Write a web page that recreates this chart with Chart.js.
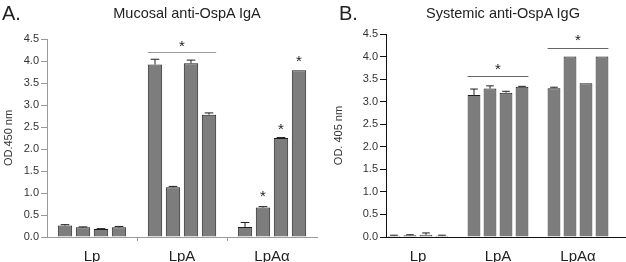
<!DOCTYPE html>
<html>
<head>
<meta charset="utf-8">
<script src="https://cdn.jsdelivr.net/npm/chart.js@4.4.0/dist/chart.umd.min.js"></script>
<style>
  body { margin: 0; background: #fff; }
  #wrap { position: relative; width: 626px; height: 262px; font-family: "Liberation Sans", Arial, sans-serif; color: #222; }
  .lbl { position: absolute; font-size: 20px; }
  .ttl { position: absolute; font-size: 14.5px; transform: translateX(-50%); white-space: nowrap; }
  canvas { position: absolute; top: 0; }
</style>
</head>
<body>
<div id="wrap">
  <canvas id="chartA" width="320" height="262" style="left:0"></canvas>
  <canvas id="chartB" width="296" height="262" style="left:330px"></canvas>
  <div class="lbl" style="left:2px;top:2px">A.</div>
  <div class="lbl" style="left:339px;top:2px">B.</div>
  <div class="ttl" style="left:187px;top:5px">Mucosal anti-OspA IgA</div>
  <div class="ttl" style="left:503px;top:5px">Systemic anti-OspA IgG</div>
</div>
<script>
const groups = ['Lp', 'LpA', 'LpA\u03b1'];
const yTicks = [0, 0.5, 1, 1.5, 2, 2.5, 3, 3.5, 4, 4.5];

// mucosal IgA, one array per animal (bar position within group)
const igaMouse1 = [0.26, 3.92, 0.23];
const igaMouse2 = [0.22, 1.13, 0.67];
const igaMouse3 = [0.18, 3.95, 2.25];
const igaMouse4 = [0.22, 2.78, 3.79];
const igaErr1 = [0.02, 0.12, 0.10];
const igaErr2 = [0.01, 0.02, 0.02];
const igaErr3 = [0.01, 0.07, 0.01];
const igaErr4 = [0.02, 0.04, 0.00];

// systemic IgG
const iggMouse1 = [0.03, 3.15, 3.30];
const iggMouse2 = [0.04, 3.29, 4.00];
const iggMouse3 = [0.05, 3.20, 3.41];
const iggMouse4 = [0.03, 3.33, 4.00];
const iggErr1 = [0.01, 0.13, 0.02];
const iggErr2 = [0.01, 0.06, 0.00];
const iggErr3 = [0.04, 0.03, 0.00];
const iggErr4 = [0.01, 0.01, 0.00];

// significance marks: [group, first bar, last bar, value]
const igaBrackets = [[1, 0, 3, 4.2]];
const igaStars = [[1, 1.5, 4.38], [2, 1, 0.98], [2, 2, 2.5], [2, 3, 4.05]];
const iggBrackets = [[1, 0, 3, 3.56], [2, 0, 3, 4.18]];
const iggStars = [[1, 1.5, 3.78], [2, 1.5, 4.42]];

const barFill = '#7d7d7d';
const barLine = '#1e1e1e';

const markPlugin = {
  id: 'marks',
  afterDatasetsDraw(chart, args, opts) {
    const ctx = chart.ctx;
    const y = chart.scales.y;
    ctx.save();
    // error bars
    chart.data.datasets.forEach((ds, di) => {
      const meta = chart.getDatasetMeta(di);
      meta.data.forEach((bar, i) => {
        const v = ds.data[i].y;
        const e = ds.errors[i];
        if (!e) return;
        const top = y.getPixelForValue(v + e);
        const cap = bar.width * 0.3;
        ctx.strokeStyle = barLine;
        ctx.lineWidth = 1;
        ctx.beginPath();
        ctx.moveTo(bar.x, bar.y);
        ctx.lineTo(bar.x, top);
        ctx.moveTo(bar.x - cap, top);
        ctx.lineTo(bar.x + cap, top);
        ctx.stroke();
      });
    });
    const barX = (g, b) => {
      const lo = Math.floor(b), hi = Math.ceil(b);
      const a = chart.getDatasetMeta(lo).data[g], c = chart.getDatasetMeta(hi).data[g];
      return (a.x + c.x) / 2;
    };
    ctx.strokeStyle = opts.lineColor;
    ctx.lineWidth = 1;
    opts.brackets.forEach(([g, b0, b1, v]) => {
      const m0 = chart.getDatasetMeta(b0).data[g];
      const m1 = chart.getDatasetMeta(b1).data[g];
      const py = Math.round(y.getPixelForValue(v)) + 0.5;
      ctx.beginPath();
      ctx.moveTo(m0.x - m0.width / 2, py);
      ctx.lineTo(m1.x + m1.width / 2, py);
      ctx.stroke();
    });
    ctx.fillStyle = '#222';
    ctx.font = '15px "Liberation Sans", Arial, sans-serif';
    ctx.textAlign = 'center';
    ctx.textBaseline = 'middle';
    opts.stars.forEach(([g, b, v]) => {
      ctx.fillText('*', barX(g, b), y.getPixelForValue(v) + 3);
    });
    ctx.restore();
  }
};

function makeSets(series, errs) {
  return series.map((s, k) => ({
    data: s.map((v, i) => ({ x: i, y: v })),
    errors: errs[k],
    backgroundColor: barFill,
    borderColor: barLine,
    borderWidth: 1,
    categoryPercentage: 0.8,
    barPercentage: 0.8
  }));
}

function yScale(axisColor, width) {
  return {
    min: 0, max: 4.5,
    afterBuildTicks: s => { s.ticks = yTicks.map(v => ({ value: v })); },
    afterFit: s => { s.width = width; },
    border: { color: axisColor, width: 1 },
    grid: { drawOnChartArea: false, tickLength: 6, tickColor: axisColor },
    ticks: { color: '#333', padding: 2, font: { size: 11, family: '"Liberation Sans", Arial, sans-serif' }, callback: v => v.toFixed(1) },
    title: { display: true, color: '#333', padding: { top: 2, bottom: 0 }, font: { size: 11, family: '"Liberation Sans", Arial, sans-serif' } }
  };
}

function xScale(axisColor, min, max) {
  return {
    type: 'linear', min: min, max: max, offset: false,
    afterBuildTicks: s => { s.ticks = groups.map((g, i) => ({ value: i })); },
    afterFit: s => { s.height = 25; },
    border: { color: axisColor, width: 1 },
    grid: { display: false },
    ticks: { color: '#222', padding: 3, autoSkip: false, maxRotation: 0, font: { size: 15, family: '"Liberation Sans", Arial, sans-serif' }, callback: v => groups[v] }
  };
}

const ya = yScale('#9a9a9a', 47);
ya.title.text = 'OD.450 nm';
new Chart(document.getElementById('chartA').getContext('2d'), {
  type: 'bar',
  data: { datasets: makeSets([igaMouse1, igaMouse2, igaMouse3, igaMouse4], [igaErr1, igaErr2, igaErr3, igaErr4]) },
  options: {
    responsive: false,
    animation: false,
    layout: { padding: { top: 39, right: 3, left: 0, bottom: 0 } },
    plugins: {
      legend: { display: false },
      tooltip: { enabled: false },
      marks: { brackets: igaBrackets, stars: igaStars, lineColor: '#9a9a9a' }
    },
    scales: { x: xScale('#9a9a9a', -0.5, 2.5), y: ya }
  },
  plugins: [markPlugin, {
    id: 'groupTicks',
    afterDraw(chart) {
      const ctx = chart.ctx, x = chart.scales.x, a = chart.chartArea;
      ctx.save();
      ctx.strokeStyle = '#9a9a9a';
      ctx.beginPath();
      [0.5, 1.5].forEach(v => {
        const px = Math.round(x.getPixelForValue(v)) + 0.5;
        ctx.moveTo(px, a.bottom);
        ctx.lineTo(px, a.bottom + 4);
      });
      ctx.stroke();
      ctx.restore();
    }
  }]
});

const yb = yScale('#111', 56);
yb.title.text = 'OD. 405 nm';
new Chart(document.getElementById('chartB').getContext('2d'), {
  type: 'bar',
  data: { datasets: makeSets([iggMouse1, iggMouse2, iggMouse3, iggMouse4], [iggErr1, iggErr2, iggErr3, iggErr4]) },
  options: {
    responsive: false,
    animation: false,
    layout: { padding: { top: 34, right: 0, left: 0, bottom: 0 } },
    plugins: {
      legend: { display: false },
      tooltip: { enabled: false },
      marks: { brackets: iggBrackets, stars: iggStars, lineColor: '#666' }
    },
    scales: { x: xScale('#111', -0.4, 2.6), y: yb }
  },
  plugins: [markPlugin]
});
</script>
</body>
</html>
